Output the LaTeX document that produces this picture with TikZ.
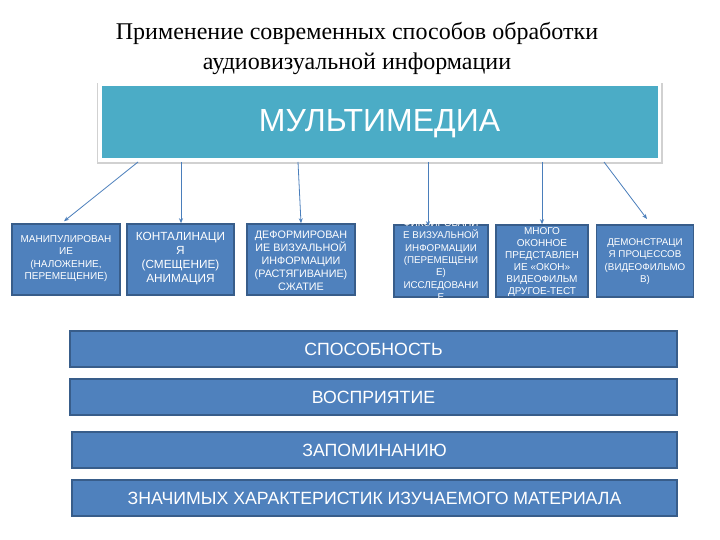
\documentclass[tikz,border=0pt]{standalone}
\usepackage{fontspec}
\setmainfont{Liberation Serif}
\newfontfamily\arialf{Liberation Sans}
\usetikzlibrary{arrows.meta}
\definecolor{teal1}{HTML}{4BACC6}
\definecolor{bfill}{HTML}{4F81BD}
\definecolor{bline}{HTML}{385D8A}
\definecolor{arr}{HTML}{4A7EBB}
\tikzset{
  smallbox/.style={draw=bline, line width=1.5pt, fill=bfill, text=white, align=center,
    inner sep=0pt, font=\arialf\fontsize{9.5}{12}\selectfont},
  boxtext/.style={text=white, align=center, inner sep=0pt},
  bar/.style={draw=bline, line width=1.5pt, fill=bfill, text=white, align=center,
    inner sep=0pt, minimum height=36pt, text height=12.6pt, text depth=0pt,
    font=\arialf\fontsize{17.7}{20}\selectfont},
  conn/.style={draw=arr, line width=0.8pt, -{Stealth[length=5pt,width=4pt]}}
}
\begin{document}
\begin{tikzpicture}[x=1pt,y=-1pt]
\useasboundingbox (0,0) rectangle (720,540);
% title
\node[font=\fontsize{24}{30}\selectfont, align=center] (title) at (357,49)
  {Применение современных способов обработки\\аудиовизуальной информации};
% main box with glow
\fill[black!18] (97,83) rectangle (663,164);
\fill[white] (98,82) rectangle (661,162);
\node[fill=teal1, minimum width=556pt, minimum height=72pt, inner sep=0pt,
  text height=23pt, text depth=4pt,
  text=white, font=\arialf\fontsize{32}{40}\selectfont] (mm) at (379.5,122) {МУЛЬТИМЕДИА};
% small boxes
\node[smallbox, minimum width=108pt, minimum height=71pt] (b1) at (66,259.5) {};
\node[boxtext, font=\arialf\fontsize{10}{12.3}\selectfont] (t1) at (66,258.5)
  {МАНИПУЛИРОВАН\\ИЕ\\(НАЛОЖЕНИЕ,\\ПЕРЕМЕЩЕНИЕ)};
\node[smallbox, minimum width=107pt, minimum height=71pt] (b2) at (180.5,259.5) {};
\node[boxtext, font=\arialf\fontsize{11.8}{14}\selectfont] (t2) at (180.5,259)
  {КОНТАЛИНАЦИ\\Я\\(СМЕЩЕНИЕ)\\АНИМАЦИЯ};
\node[smallbox, minimum width=108pt, minimum height=71pt] (b3) at (301,259.5) {};
\node[boxtext, font=\arialf\fontsize{10.8}{13}\selectfont] (t3) at (301,260.5)
  {ДЕФОРМИРОВАН\\ИЕ ВИЗУАЛЬНОЙ\\ИНФОРМАЦИИ\\(РАСТЯГИВАНИЕ)\\СЖАТИЕ};
\node[smallbox, minimum width=94pt, minimum height=72pt] (b4) at (441,261) {};
\node[boxtext, font=\arialf\fontsize{9.8}{12.3}\selectfont] (t4) at (441,260)
  {ФИКСИРОВАНИ\\Е ВИЗУАЛЬНОЙ\\ИНФОРМАЦИИ\\(ПЕРЕМЕЩЕНИ\\Е)\\ИССЛЕДОВАНИ\\Е};
\node[smallbox, minimum width=92pt, minimum height=72pt] (b5) at (542,261) {};
\node[boxtext, font=\arialf\fontsize{10}{12}\selectfont] (t5) at (542,262)
  {МНОГО\\ОКОННОЕ\\ПРЕДСТАВЛЕН\\ИЕ «ОКОН»\\ВИДЕОФИЛЬМ\\ДРУГОЕ-ТЕСТ};
\node[smallbox, minimum width=97pt, minimum height=72pt] (b6) at (645,261) {};
\node[boxtext, font=\arialf\fontsize{9.8}{12.2}\selectfont] (t6) at (645,261.5)
  {ДЕМОНСТРАЦИ\\Я ПРОЦЕССОВ\\(ВИДЕОФИЛЬМО\\В)};
% connectors
\coordinate (s1) at (138,162);
\coordinate (s2) at (181,162);
\coordinate (s3) at (298,162);
\coordinate (s4) at (428,162);
\coordinate (s5) at (542,162);
\coordinate (s6) at (604,162);
\coordinate (e6) at (647,219);
\draw[conn] (s1) -- ([xshift=-2pt,yshift=2pt]b1.north);
\draw[conn] (s2) -- (b2.north -| s2);
\draw[conn] (s3) -- (b3.north);
\draw[conn] (s4) -- ([yshift=-2pt]b4.north -| s4);
\draw[conn] (s5) -- (b5.north -| s5);
\draw[conn] (s6) -- (e6);
% bars
\node[bar, minimum width=607pt] (p1) at (373.5,349) {СПОСОБНОСТЬ};
\node[bar, minimum width=607pt] (p2) at (373.5,397) {ВОСПРИЯТИЕ};
\node[bar, minimum width=605pt] (p3) at (374.5,450) {ЗАПОМИНАНИЮ};
\node[bar, minimum width=605pt] (p4) at (374.5,498) {ЗНАЧИМЫХ ХАРАКТЕРИСТИК ИЗУЧАЕМОГО МАТЕРИАЛА};
\end{tikzpicture}
\end{document}
